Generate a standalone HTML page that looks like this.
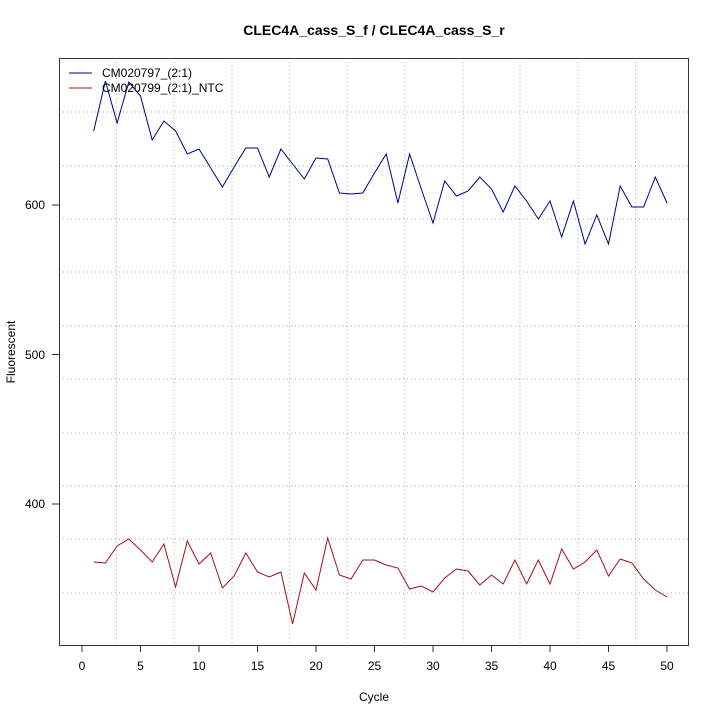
<!DOCTYPE html>
<html><head><meta charset="utf-8"><style>body{margin:0;background:#fff}</style></head><body>
<svg width="720" height="720" xmlns="http://www.w3.org/2000/svg" font-family="Liberation Sans, sans-serif" font-size="12">
<rect width="720" height="720" fill="#fff"/>
<g stroke="#aaa" stroke-dasharray="1,3" stroke-width="1">
<line x1="116.5" y1="58" x2="116.5" y2="645"/><line x1="174" y1="58" x2="174" y2="645"/><line x1="232" y1="58" x2="232" y2="645"/><line x1="289.5" y1="58" x2="289.5" y2="645"/><line x1="347" y1="58" x2="347" y2="645"/><line x1="405" y1="58" x2="405" y2="645"/><line x1="463" y1="58" x2="463" y2="645"/><line x1="520" y1="58" x2="520" y2="645"/><line x1="578" y1="58" x2="578" y2="645"/><line x1="635.5" y1="58" x2="635.5" y2="645"/>
<line x1="59" y1="112" x2="688" y2="112"/><line x1="59" y1="166" x2="688" y2="166"/><line x1="59" y1="219" x2="688" y2="219"/><line x1="59" y1="272" x2="688" y2="272"/><line x1="59" y1="326" x2="688" y2="326"/><line x1="59" y1="379" x2="688" y2="379"/><line x1="59" y1="433" x2="688" y2="433"/><line x1="59" y1="486" x2="688" y2="486"/><line x1="59" y1="539" x2="688" y2="539"/><line x1="59" y1="593" x2="688" y2="593"/>
</g>
<rect x="59.5" y="58.5" width="629" height="587" fill="none" stroke="#333"/>
<g stroke="#333">
<line x1="82" y1="645" x2="82" y2="652"/><line x1="140.5" y1="645" x2="140.5" y2="652"/><line x1="199" y1="645" x2="199" y2="652"/><line x1="257.5" y1="645" x2="257.5" y2="652"/><line x1="316" y1="645" x2="316" y2="652"/><line x1="374.5" y1="645" x2="374.5" y2="652"/><line x1="433" y1="645" x2="433" y2="652"/><line x1="491.5" y1="645" x2="491.5" y2="652"/><line x1="550" y1="645" x2="550" y2="652"/><line x1="608.5" y1="645" x2="608.5" y2="652"/><line x1="667" y1="645" x2="667" y2="652"/>
<line x1="52" y1="205" x2="59" y2="205"/><line x1="52" y1="354.5" x2="59" y2="354.5"/><line x1="52" y1="504" x2="59" y2="504"/>
</g>
<g text-anchor="middle">
<text x="82" y="670">0</text><text x="140.5" y="670">5</text><text x="199" y="670">10</text><text x="257.5" y="670">15</text><text x="316" y="670">20</text><text x="374.5" y="670">25</text><text x="433" y="670">30</text><text x="491.5" y="670">35</text><text x="550" y="670">40</text><text x="608.5" y="670">45</text><text x="667" y="670">50</text>
<text x="374" y="701">Cycle</text>
<text x="374" y="35" font-weight="bold" font-size="14">CLEC4A_cass_S_f / CLEC4A_cass_S_r</text>
<text transform="translate(15,352) rotate(-90)">Fluorescent</text>
</g>
<g text-anchor="end"><text x="45" y="209">600</text><text x="45" y="359">500</text><text x="45" y="508">400</text></g>
<polyline fill="none" stroke="#00008b" stroke-width="1" points="93.7,131 105.4,81 117.1,123 128.8,82 140.5,96 152.2,140 163.9,121 175.6,131 187.3,154 199,149 210.7,168 222.4,187 234.1,167 245.8,148 257.5,148 269.2,177 280.9,149 292.6,164 304.3,179 316,158 327.7,159 339.4,193 351.1,194 362.8,193 374.5,173 386.2,154 397.9,203 409.6,154 421.3,189 433,223 444.7,181 456.4,196 468.1,191 479.8,177 491.5,189 503.2,212 514.9,186 526.6,201 538.3,219 550,201 561.7,237 573.4,201 585.1,244 596.8,215 608.5,244 620.2,186 631.9,207 643.6,207 655.3,177 667,203"/>
<polyline fill="none" stroke="#a50f15" stroke-width="1" points="93.7,562 105.4,563 117.1,546 128.8,539 140.5,550 152.2,562 163.9,544 175.6,587 187.3,541 199,564 210.7,553 222.4,588 234.1,576 245.8,553 257.5,572 269.2,577 280.9,572 292.6,624 304.3,573 316,590 327.7,538 339.4,575 351.1,579 362.8,560 374.5,560 386.2,565 397.9,568 409.6,589 421.3,586 433,592 444.7,578 456.4,569 468.1,571 479.8,585 491.5,575 503.2,584 514.9,560 526.6,584 538.3,560 550,584 561.7,549 573.4,569 585.1,562 596.8,550 608.5,576 620.2,559 631.9,563 643.6,579 655.3,590 667,597"/>
<line x1="69" y1="73" x2="92" y2="73" stroke="#00008b"/>
<line x1="69" y1="88" x2="92" y2="88" stroke="#a50f15"/>
<text x="102" y="77">CM020797_(2:1)</text>
<text x="102" y="92">CM020799_(2:1)_NTC</text>
</svg>
</body></html>
